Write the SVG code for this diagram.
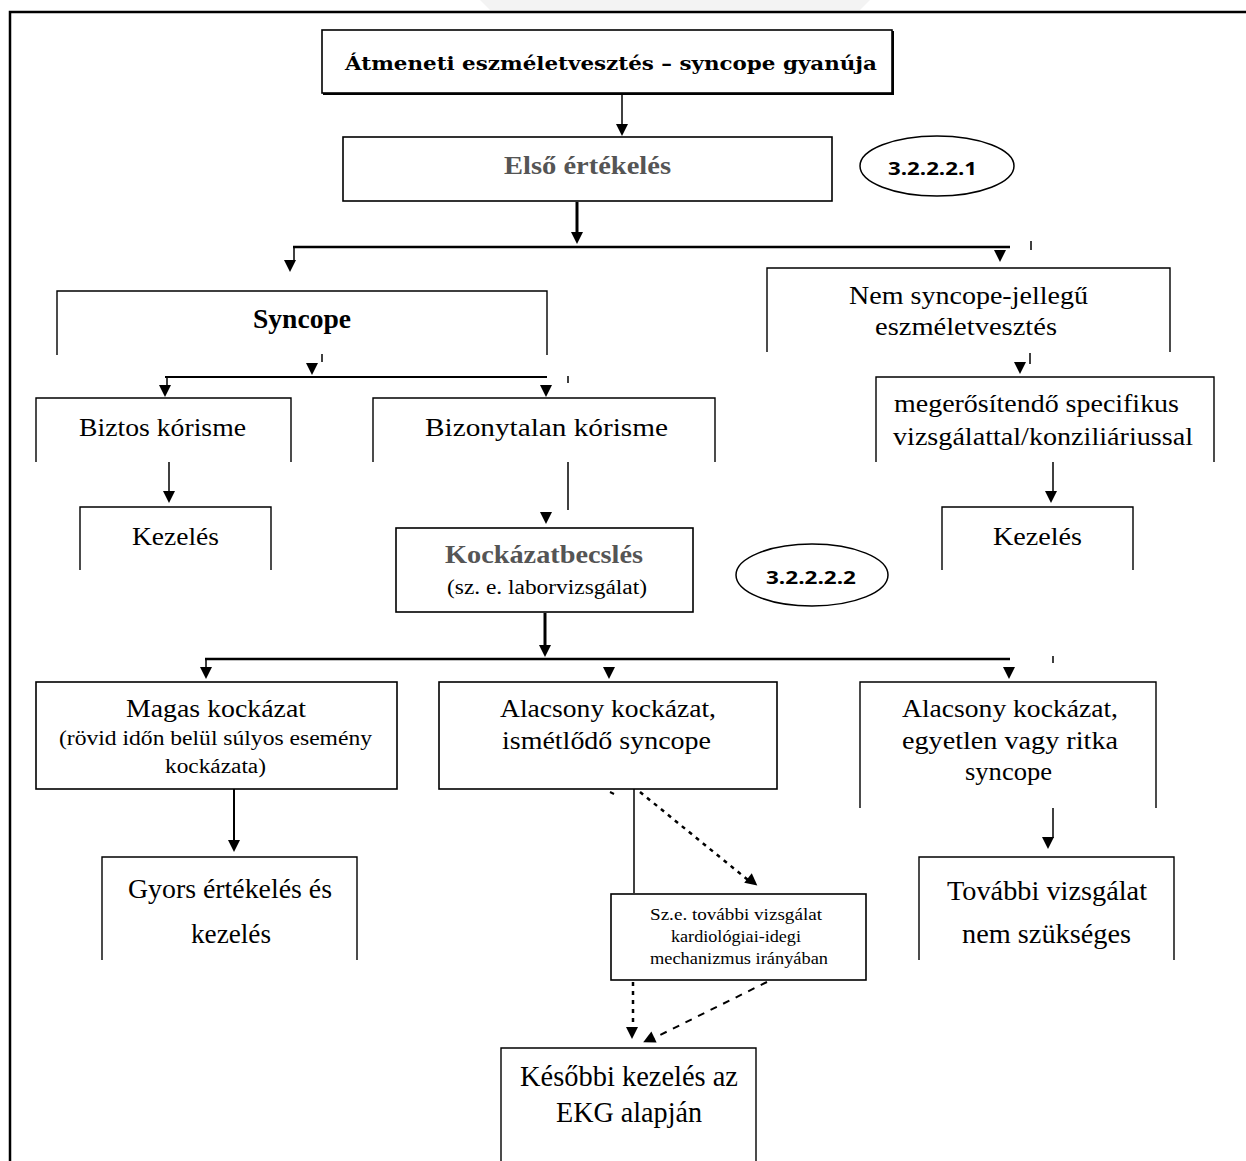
<svg xmlns="http://www.w3.org/2000/svg" xmlns:xlink="http://www.w3.org/1999/xlink" width="1246" height="1161" viewBox="0 0 1246 1161">
<style>
  .box{fill:none;stroke:#000;stroke-width:1.6}
  .open{fill:none;stroke:#000;stroke-width:1.4}
  .ln{fill:none;stroke:#000;stroke-width:1.5}
  .thick{fill:none;stroke:#000;stroke-width:3}
  .dot{fill:none;stroke:#000;stroke-width:2.5;stroke-dasharray:4 5}
  .dash{fill:none;stroke:#000;stroke-width:2;stroke-dasharray:7 7}
  .t{font-family:"Liberation Serif","Times New Roman",serif;fill:#000}
  .b{font-family:"Liberation Serif","Times New Roman",serif;font-weight:bold;fill:#000}
  .b2{font-family:"DejaVu Serif","Liberation Serif",serif;font-weight:bold;fill:#000}
  .g{fill:#555}
  .s{font-family:"Open Sans","Liberation Sans",sans-serif;font-weight:bold;fill:#000}
</style>
<defs>
  <path id="ah" d="M-6,0 L6,0 L0,12 Z" fill="#000"/>
</defs>
<rect width="1246" height="1161" fill="#fff"/>
<polygon points="480,0 870,0 860,10 490,10" fill="#f3f3f3"/>
<path d="M10,1161 V12 H1246" fill="none" stroke="#000" stroke-width="2.5"/>

<g id="connectors">
  <line class="ln" x1="622" y1="94" x2="622" y2="124"/>
  <use xlink:href="#ah" x="622" y="124"/>
  <line class="thick" x1="577" y1="202" x2="577" y2="232"/>
  <use xlink:href="#ah" x="577" y="232"/>
  <line class="thick" x1="293" y1="247" x2="1010" y2="247" style="stroke-width:2.5"/>
  <line class="ln" x1="294" y1="247" x2="294" y2="262"/>
  <use xlink:href="#ah" x="290" y="260"/>
  <use xlink:href="#ah" x="1000" y="250"/>
  <line class="ln" x1="1031" y1="241" x2="1031" y2="250"/>

  <line class="ln" x1="322" y1="354" x2="322" y2="362"/>
  <use xlink:href="#ah" x="312" y="363"/>
  <line class="ln" x1="165" y1="377" x2="547" y2="377" style="stroke-width:2"/>
  <line class="ln" x1="167" y1="377" x2="167" y2="386"/>
  <use xlink:href="#ah" x="165" y="385"/>
  <use xlink:href="#ah" x="546" y="385"/>
  <line class="ln" x1="568" y1="376" x2="568" y2="383"/>

  <line class="ln" x1="169" y1="462" x2="169" y2="492"/>
  <use xlink:href="#ah" x="169" y="491"/>
  <line class="ln" x1="568" y1="462" x2="568" y2="510"/>
  <use xlink:href="#ah" x="546" y="512"/>

  <line class="ln" x1="1030" y1="353" x2="1030" y2="364"/>
  <use xlink:href="#ah" x="1020" y="362"/>
  <line class="ln" x1="1053" y1="462" x2="1053" y2="492"/>
  <use xlink:href="#ah" x="1051" y="491"/>

  <line class="thick" x1="545" y1="613" x2="545" y2="645"/>
  <use xlink:href="#ah" x="545" y="645"/>
  <line class="thick" x1="205" y1="659" x2="1010" y2="659" style="stroke-width:2.5"/>
  <line class="ln" x1="206" y1="659" x2="206" y2="667"/>
  <use xlink:href="#ah" x="206" y="667"/>
  <use xlink:href="#ah" x="609" y="667"/>
  <use xlink:href="#ah" x="1009" y="667"/>
  <line class="ln" x1="1053" y1="656" x2="1053" y2="663"/>

  <line class="ln" x1="234" y1="789" x2="234" y2="840" style="stroke-width:2"/>
  <use xlink:href="#ah" x="234" y="840"/>
  <line class="ln" x1="1053" y1="808" x2="1053" y2="838"/>
  <use xlink:href="#ah" x="1048" y="837"/>

  <line class="ln" x1="634" y1="789" x2="634" y2="893"/>
  <line class="ln" x1="610" y1="792" x2="614" y2="794" style="stroke-width:2"/>
  <line class="dot" x1="640" y1="792" x2="748" y2="880"/>
  <use xlink:href="#ah" transform="translate(748,878) rotate(-51)"/>
  <line class="dot" x1="633" y1="982" x2="633" y2="1027"/>
  <use xlink:href="#ah" x="632" y="1027"/>
  <line class="dash" x1="767" y1="982" x2="652" y2="1039"/>
  <use xlink:href="#ah" transform="translate(654,1037) rotate(64)"/>
</g>

<g id="n-atmeneti">
  <rect class="box" x="322" y="30" width="570" height="63"/>
  <path d="M323,94 H893 V31" fill="none" stroke="#000" stroke-width="2"/>
  <text class="b2" x="345" y="70" font-size="19" textLength="532" lengthAdjust="spacingAndGlyphs">Átmeneti eszméletvesztés –  syncope gyanúja</text>
</g>
<g id="n-elso">
  <rect class="box" x="343" y="137" width="489" height="64"/>
  <text class="b g" x="504" y="174" font-size="26" textLength="167" lengthAdjust="spacingAndGlyphs">Első értékelés</text>
</g>
<g id="n-ref1">
  <ellipse cx="937" cy="166" rx="77" ry="30" fill="none" stroke="#000" stroke-width="1.5"/>
  <text class="s" x="888" y="175" font-size="18" textLength="89" lengthAdjust="spacingAndGlyphs">3.2.2.2.1</text>
</g>
<g id="n-syncope">
  <path class="open" d="M57,355 V291 H547 V355"/>
  <text class="b" x="253" y="328" font-size="27" textLength="98" lengthAdjust="spacingAndGlyphs">Syncope</text>
</g>
<g id="n-nemsyncope">
  <path class="open" d="M767,352 V268 H1170 V352"/>
  <text class="t" x="849" y="304" font-size="25" textLength="239" lengthAdjust="spacingAndGlyphs">Nem syncope-jellegű</text>
  <text class="t" x="875" y="335" font-size="25" textLength="182" lengthAdjust="spacingAndGlyphs">eszméletvesztés</text>
</g>
<g id="n-biztos">
  <path class="open" d="M36,462 V398 H291 V462"/>
  <text class="t" x="79" y="436" font-size="25" textLength="167" lengthAdjust="spacingAndGlyphs">Biztos kórisme</text>
</g>
<g id="n-bizonytalan">
  <path class="open" d="M373,462 V398 H715 V462"/>
  <text class="t" x="425" y="436" font-size="25" textLength="243" lengthAdjust="spacingAndGlyphs">Bizonytalan  kórisme</text>
</g>
<g id="n-megerosit">
  <path class="open" d="M876,462 V377 H1214 V462"/>
  <text class="t" x="894" y="412" font-size="25" textLength="285" lengthAdjust="spacingAndGlyphs">megerősítendő specifikus</text>
  <text class="t" x="893" y="445" font-size="25" textLength="300" lengthAdjust="spacingAndGlyphs">vizsgálattal/konziliáriussal</text>
</g>
<g id="n-kezeles1">
  <path class="open" d="M80,570 V507 H271 V570"/>
  <text class="t" x="132" y="545" font-size="26" textLength="87" lengthAdjust="spacingAndGlyphs">Kezelés</text>
</g>
<g id="n-kezeles2">
  <path class="open" d="M942,570 V507 H1133 V570"/>
  <text class="t" x="993" y="545" font-size="26" textLength="89" lengthAdjust="spacingAndGlyphs">Kezelés</text>
</g>
<g id="n-kockazat">
  <rect class="box" x="396" y="528" width="297" height="84"/>
  <text class="b g" x="445" y="563" font-size="26" textLength="198" lengthAdjust="spacingAndGlyphs">Kockázatbecslés</text>
  <text class="t" x="447" y="594" font-size="20" textLength="200" lengthAdjust="spacingAndGlyphs">(sz. e. laborvizsgálat)</text>
</g>
<g id="n-ref2">
  <ellipse cx="812" cy="575" rx="76" ry="31" fill="none" stroke="#000" stroke-width="1.5"/>
  <text class="s" x="766" y="584" font-size="18" textLength="90" lengthAdjust="spacingAndGlyphs">3.2.2.2.2</text>
</g>
<g id="n-magas">
  <rect class="box" x="36" y="682" width="361" height="107"/>
  <text class="t" x="126" y="717" font-size="25" textLength="180" lengthAdjust="spacingAndGlyphs">Magas kockázat</text>
  <text class="t" x="59" y="745" font-size="20" textLength="313" lengthAdjust="spacingAndGlyphs">(rövid időn belül súlyos esemény</text>
  <text class="t" x="165" y="773" font-size="20" textLength="101" lengthAdjust="spacingAndGlyphs">kockázata)</text>
</g>
<g id="n-alacsony1">
  <rect class="box" x="439" y="682" width="338" height="107"/>
  <text class="t" x="500" y="717" font-size="25" textLength="216" lengthAdjust="spacingAndGlyphs">Alacsony kockázat,</text>
  <text class="t" x="502" y="749" font-size="25" textLength="209" lengthAdjust="spacingAndGlyphs">ismétlődő syncope</text>
</g>
<g id="n-alacsony2">
  <path class="open" d="M860,808 V682 H1156 V808"/>
  <text class="t" x="902" y="717" font-size="25" textLength="216" lengthAdjust="spacingAndGlyphs">Alacsony kockázat,</text>
  <text class="t" x="902" y="749" font-size="25" textLength="216" lengthAdjust="spacingAndGlyphs">egyetlen vagy ritka</text>
  <text class="t" x="965" y="780" font-size="25" textLength="87" lengthAdjust="spacingAndGlyphs">syncope</text>
</g>
<g id="n-gyors">
  <path class="open" d="M102,960 V857 H357 V960"/>
  <text class="t" x="128" y="898" font-size="28" textLength="204" lengthAdjust="spacingAndGlyphs">Gyors értékelés és</text>
  <text class="t" x="191" y="943" font-size="28" textLength="80" lengthAdjust="spacingAndGlyphs">kezelés</text>
</g>
<g id="n-tovabbi">
  <path class="open" d="M919,960 V857 H1174 V960"/>
  <text class="t" x="947" y="900" font-size="28" textLength="200" lengthAdjust="spacingAndGlyphs">További vizsgálat</text>
  <text class="t" x="962" y="943" font-size="28" textLength="169" lengthAdjust="spacingAndGlyphs">nem szükséges</text>
</g>
<g id="n-sze">
  <rect class="box" x="611" y="894" width="255" height="86"/>
  <text class="t" x="650" y="920" font-size="17" textLength="172" lengthAdjust="spacingAndGlyphs">Sz.e. további vizsgálat</text>
  <text class="t" x="671" y="942" font-size="17" textLength="130" lengthAdjust="spacingAndGlyphs">kardiológiai-idegi</text>
  <text class="t" x="650" y="964" font-size="17" textLength="178" lengthAdjust="spacingAndGlyphs">mechanizmus irányában</text>
</g>
<g id="n-kesobbi">
  <path class="open" d="M501,1161 V1048 H756 V1161"/>
  <text class="t" x="520" y="1086" font-size="29" textLength="218" lengthAdjust="spacingAndGlyphs">Későbbi kezelés az</text>
  <text class="t" x="556" y="1122" font-size="29" textLength="146" lengthAdjust="spacingAndGlyphs">EKG alapján</text>
</g>
</svg>
